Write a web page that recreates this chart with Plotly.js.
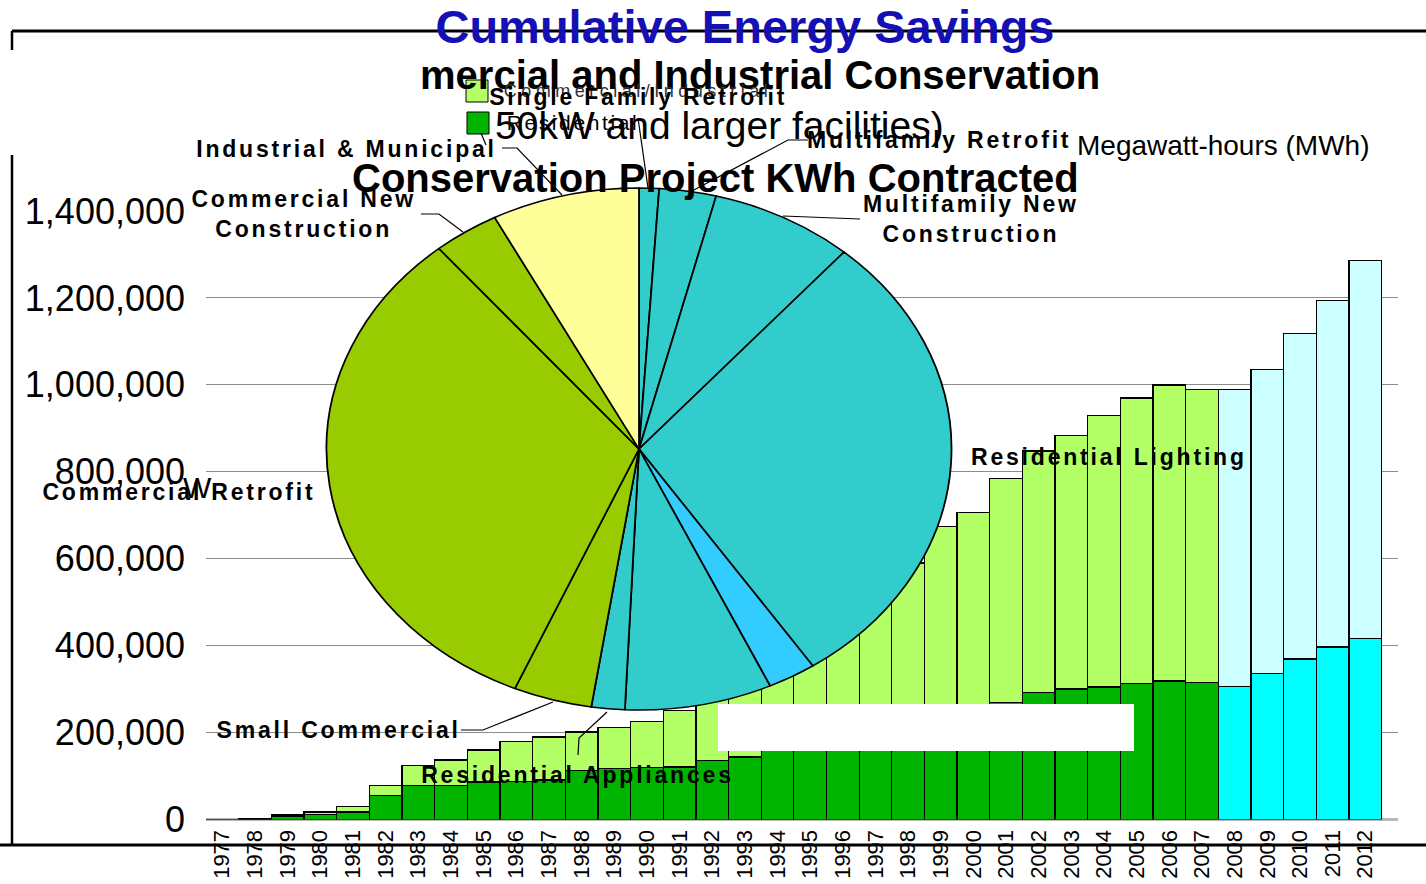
<!DOCTYPE html>
<html><head><meta charset="utf-8">
<script src="https://cdn.plot.ly/plotly-3.0.1.min.js"></script>
<style>html,body{margin:0;padding:0;background:#fff;overflow:hidden}#chart{width:1426px;height:884px}</style>
</head><body><div id="chart"></div>
<script>
// ---------- data ----------
const years = ['1977','1978','1979','1980','1981','1982','1983','1984','1985','1986','1987','1988',
  '1989','1990','1991','1992','1993','1994','1995','1996','1997','1998','1999','2000',
  '2001','2002','2003','2004','2005','2006','2007','2008','2009','2010','2011','2012'];
// lower segment of each stacked bar (MWh)
const residentialMWh = [0,1500,8000,12000,17000,56000,78000,78000,86000,88000,91000,112000,
  117000,119000,121000,135000,144000,165000,180000,195000,210000,225000,240000,255000,
  269000,292000,300000,305000,313000,319000,316000,306000,336000,369000,397000,416000];
// upper segment of each stacked bar (MWh)
const commercialMWh = [500,1000,2500,5000,13000,23000,46000,59000,74000,91000,99000,89000,
  94000,106000,129000,150000,166000,175000,210000,255000,300000,365000,434000,451000,
  516000,556000,584000,624000,657000,681000,674000,683000,699000,749000,797000,870000];
const yTickVals = [0,200000,400000,600000,800000,1000000,1200000,1400000];

const pieLabels = ['Single Family Retrofit','Multifamily Retrofit','Multifamily New Construction',
  'Residential Lighting','Residential Other','Residential New Construction','Residential Appliances',
  'Small Commercial','Commercial Retrofit','Commercial New Construction','Industrial & Municipal'];
const pieShares = [1.03,2.94,7.42,29.22,2.5,7.61,1.72,4.06,32.44,3.42,7.64];
const pieColors = ['#33cccc','#33cccc','#33cccc','#33cccc','#33ccff','#33cccc','#33cccc',
  '#99cc00','#99cc00','#99cc00','#ffff99'];

// ---------- helpers ----------
const W = 1426, H = 884;
const X = p => p / W, Y = p => 1 - p / H;
const FAM = 'Liberation Sans, Arial, sans-serif';

const darkCol = years.map(y => (+y >= 2008 ? '#00ffff' : '#00b400'));
const lightCol = years.map(y => (+y >= 2008 ? '#ccffff' : '#b3ff66'));

const traces = [
  {type:'bar', x:years, y:residentialMWh, name:'Residential',
   marker:{color:darkCol, line:{color:'#000', width:1.3}}, hoverinfo:'x+y'},
  {type:'bar', x:years, y:commercialMWh, name:'Commercial/Industrial',
   marker:{color:lightCol, line:{color:'#000', width:1.3}}, hoverinfo:'x+y'},
  {type:'pie', labels:pieLabels, values:pieShares, sort:false, direction:'clockwise', rotation:0,
   marker:{colors:pieColors, line:{color:'#000', width:1.8}}, textinfo:'none', showlegend:false,
   domain:{x:[X(639-312.5), X(639+312.5)], y:[Y(449+312.5), Y(449-312.5)]}}
];

const pieCx = 449, squash = 261/312.5;

function seg(pts){ return 'M' + pts.map(p => X(p[0]) + ',' + Y(p[1])).join('L'); }
const blk = {color:'#000', width:1.2};
const shapes = [
  // slide frame
  {type:'line', xref:'paper', yref:'paper', x0:X(12), x1:X(1426), y0:Y(31), y1:Y(31), line:{color:'#000', width:3}, layer:'above'},
  {type:'line', xref:'paper', yref:'paper', x0:X(12), x1:X(12), y0:Y(31), y1:Y(50), line:{color:'#000', width:2.5}, layer:'above'},
  {type:'line', xref:'paper', yref:'paper', x0:X(12), x1:X(12), y0:Y(155), y1:Y(845), line:{color:'#000', width:2.5}, layer:'above'},
  {type:'line', xref:'paper', yref:'paper', x0:0, x1:1, y0:Y(845), y1:Y(845), line:{color:'#000', width:3}, layer:'above'},
  // white box over bars
  {type:'rect', xref:'paper', yref:'paper', x0:X(718), x1:X(1134), y0:Y(751), y1:Y(704), fillcolor:'#fff', line:{width:0}, layer:'above'},
  // legend swatches
  {type:'rect', xref:'paper', yref:'paper', x0:X(466), x1:X(488), y0:Y(102), y1:Y(80), fillcolor:'#b3ff66', line:{color:'#000', width:1}, layer:'above'},
  {type:'rect', xref:'paper', yref:'paper', x0:X(467), x1:X(489), y0:Y(134), y1:Y(112), fillcolor:'#00b400', line:{color:'#000', width:1}, layer:'above'},
  // leader lines
  {type:'path', xref:'paper', yref:'paper', path:seg([[502,148],[517,148],[562,195]]), line:blk, layer:'above'},
  {type:'path', xref:'paper', yref:'paper', path:seg([[481,133],[486,145]]), line:blk, layer:'above'},
  {type:'path', xref:'paper', yref:'paper', path:seg([[638,118],[648,188]]), line:blk, layer:'above'},
  {type:'path', xref:'paper', yref:'paper', path:seg([[808,140],[788,140],[692,191]]), line:blk, layer:'above'},
  {type:'path', xref:'paper', yref:'paper', path:seg([[860,219],[783,216]]), line:blk, layer:'above'},
  {type:'path', xref:'paper', yref:'paper', path:seg([[421,214],[439,214],[463,232]]), line:blk, layer:'above'},
  {type:'path', xref:'paper', yref:'paper', path:seg([[461,730],[483,730],[553,702]]), line:blk, layer:'above'},
  {type:'path', xref:'paper', yref:'paper', path:seg([[578,755],[579,738],[607,712]]), line:blk, layer:'above'}
];

function ann(text, x, y, size, bold, xanchor, extra){
  return Object.assign({xref:'paper', yref:'paper', x:X(x), y:Y(y), text:text, showarrow:false,
    xanchor:xanchor||'center', yanchor:'middle',
    font:{family:FAM, size:size, color:'#000', weight:bold?700:400}}, extra||{});
}
const spacing = {
  'Commercial/Industrial':4.5, 'Residential':2.6,
  'Industrial & Municipal':2.8, 'Commercial NewConstruction':2.8, 'Multifamily Retrofit':2.8,
  'Multifamily NewConstruction':2.8, 'Residential Lighting':2.8, 'Commercial Retrofit':2.8,
  'Small Commercial':2.8, 'Residential Appliances':2.8, 'Single Family Retrofit':2.8
};
const annotations = [
  ann('mercial and Industrial Conservation', 1102, 75, 40, true, 'right'),
  ann('Commercial/Industrial', 638, 91, 18, false, 'center', {font:{family:FAM, size:18, color:'#333', weight:400}}),
  ann('Residential', 573, 123, 21, false),
  ann('50kW and larger facilities)', 493, 126, 39, false, 'left'),
  ann('Conservation Project KWh Contracted', 715, 178, 40, true),
  ann('Megawatt-hours (MWh)', 1075, 146, 28, false, 'left'),
  ann('W', 197, 487, 30, false),
  ann('Single Family Retrofit', 638, 97, 23, true),
  ann('Industrial & Municipal', 346, 149, 23, true),
  ann('Commercial New<br>Construction', 303, 214, 23, true),
  ann('Multifamily Retrofit', 939, 140, 23, true),
  ann('Multifamily New<br>Construction', 971, 219, 23, true),
  ann('Residential Lighting', 1109, 457, 23, true),
  ann('Commercial Retrofit', 179, 492, 23, true),
  ann('Small Commercial', 338, 730, 23, true),
  ann('Residential Appliances', 577, 775, 23, true)
];

const layout = {
  width:W, height:H, margin:{l:0, r:0, t:0, b:0}, paper_bgcolor:'#fff', plot_bgcolor:'#fff',
  showlegend:false, barmode:'stack', bargap:0,
  title:{text:'Cumulative Energy Savings', x:X(745), xanchor:'center', xref:'paper', y:Y(27), yref:'container', yanchor:'middle',
    font:{family:FAM, size:47, color:'#1410b4', weight:700}},
  xaxis:{type:'category', domain:[X(206), X(1398)], range:[-0.5, 36.0], tickangle:-90,
    tickfont:{family:FAM, size:22, color:'#000'}, showgrid:false, zeroline:false, showline:false,
    ticks:'', ticklabelstandoff:5, fixedrange:true},
  yaxis:{domain:[Y(819.5), Y(211)], range:[0, 1400000], tickvals:yTickVals, tickformat:',d',
    tickfont:{family:FAM, size:36, color:'#000'}, showgrid:true, gridcolor:'#8c8c8c', gridwidth:1,
    zeroline:true, zerolinecolor:'#b8b8b8', zerolinewidth:3, showline:false, ticks:'',
    ticklabelstandoff:20, fixedrange:true},
  shapes:shapes, annotations:annotations
};

Plotly.newPlot('chart', traces, layout, {displayModeBar:false, staticPlot:true}).then(gd => {
  const pl = gd.querySelector('.pielayer');
  if (pl) pl.setAttribute('transform', 'translate(0,' + (pieCx*(1-squash)) + ') scale(1,' + squash + ')');
  gd.querySelectorAll('.annotation-text').forEach(t => {
    const k = t.textContent;
    if (spacing[k] !== undefined) t.style.letterSpacing = spacing[k] + 'px';
  });
});
</script></body></html>
